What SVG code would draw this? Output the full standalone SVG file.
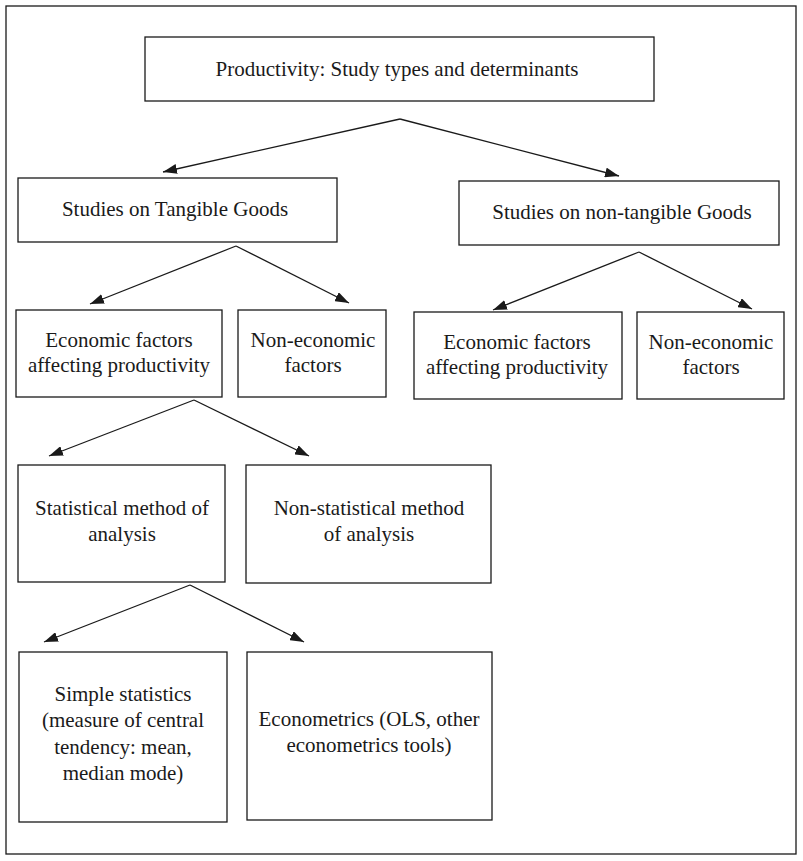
<svg xmlns="http://www.w3.org/2000/svg" width="803" height="861" viewBox="0 0 803 861">
<style>
.box{fill:#fff;stroke:#1a1a1a;stroke-width:1.3}
.t{font-family:"Liberation Serif","Times New Roman",serif;font-size:21px;fill:#1a1a1a;text-anchor:middle}
.c{stroke:#1a1a1a;stroke-width:1.3;fill:none;marker-end:url(#ah)}
</style>
<defs>
<marker id="ah" viewBox="0 0 14 10" refX="14" refY="5" markerWidth="14" markerHeight="10" markerUnits="userSpaceOnUse" orient="auto">
<path d="M0,0 L14,5 L0,10 Z" fill="#1a1a1a"/>
</marker>
</defs>
<rect x="6" y="6" width="790" height="848" fill="#fff" stroke="#1a1a1a" stroke-width="1.3"/>
<g id="connectors">
<path class="c" d="M400,119 L163,172"/>
<path class="c" d="M400,119 L619,176"/>
<path class="c" d="M236,246 L90,304"/>
<path class="c" d="M236,246 L349,303"/>
<path class="c" d="M639,252 L493,310"/>
<path class="c" d="M639,252 L752,309"/>
<path class="c" d="M194,400 L49,456"/>
<path class="c" d="M194,400 L309,456"/>
<path class="c" d="M190,585 L44,642"/>
<path class="c" d="M190,585 L304,642"/>
</g>
<g id="root"><rect class="box" x="145" y="37" width="509" height="64"/><text class="t" x="397" y="76">Productivity: Study types and determinants</text></g>
<g id="tangible"><rect class="box" x="18" y="178" width="319" height="64"/><text class="t" x="175" y="216">Studies on Tangible Goods</text></g>
<g id="nontangible"><rect class="box" x="459" y="181" width="320" height="64"/><text class="t" x="622" y="219">Studies on non-tangible Goods</text></g>
<g id="econ-left"><rect class="box" x="16" y="310" width="206" height="87"/><text class="t" x="119" y="347">Economic factors</text><text class="t" x="119" y="372">affecting productivity</text></g>
<g id="nonecon-left"><rect class="box" x="238" y="310" width="148" height="87"/><text class="t" x="313" y="347">Non-economic</text><text class="t" x="313" y="372">factors</text></g>
<g id="econ-right"><rect class="box" x="414" y="312" width="208" height="87"/><text class="t" x="517" y="349">Economic factors</text><text class="t" x="517" y="374">affecting productivity</text></g>
<g id="nonecon-right"><rect class="box" x="637" y="312" width="147" height="87"/><text class="t" x="711" y="349">Non-economic</text><text class="t" x="711" y="374">factors</text></g>
<g id="statistical"><rect class="box" x="18" y="465" width="207" height="117"/><text class="t" x="122" y="515">Statistical method of</text><text class="t" x="122" y="541">analysis</text></g>
<g id="nonstatistical"><rect class="box" x="246" y="465" width="245" height="118"/><text class="t" x="369" y="515">Non-statistical method</text><text class="t" x="369" y="541">of analysis</text></g>
<g id="simple"><rect class="box" x="19" y="652" width="208" height="170"/><text class="t" x="123" y="701">Simple statistics</text><text class="t" x="123" y="727">(measure of central</text><text class="t" x="123" y="754">tendency: mean,</text><text class="t" x="123" y="780">median mode)</text></g>
<g id="econometrics"><rect class="box" x="247" y="652" width="245" height="168"/><text class="t" x="369" y="726">Econometrics (OLS, other</text><text class="t" x="369" y="752">econometrics tools)</text></g>
</svg>
